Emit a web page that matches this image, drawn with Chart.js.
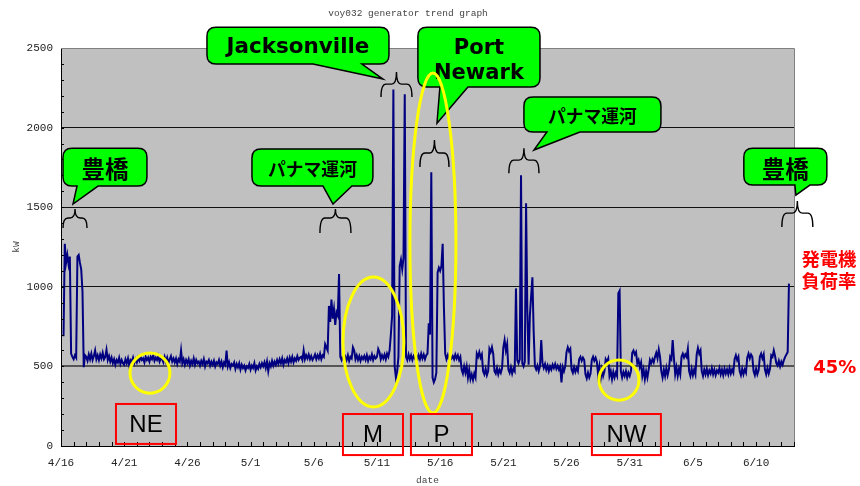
<!DOCTYPE html>
<html>
<head>
<meta charset="utf-8">
<script src="https://cdn.jsdelivr.net/npm/chart.js@4/dist/chart.umd.min.js"></script>
<style>
body{margin:0;background:#fff;}
#wrap{width:860px;height:486px;}
</style>
</head>
<body>
<div id="wrap"><canvas id="myChart"></canvas></div>
<script>
const dateLabels = ['4/16','4/21','4/26','5/1','5/6','5/11','5/16','5/21','5/26','5/31','6/5','6/10'];
// one sample every 0.1 day (2.4 h), starting 4/16 00:00
const stepDays = 0.1;

const kwApr = [
  null,null,690,1270,1150,1200,1140,1190,580,560,
  545,570,555,1190,1200,1150,1110,970,495,570,
  560,535,575,545,580,540,565,600,545,570,
  540,575,550,585,545,560,605,540,565,530,
  555,520,545,510,540,525,555,515,540,520,
  510,545,520,550,505,540,530,555,520,545,
  525,555,535,560,540,550,525,560,540,555,
  530,560,545,570,535,555,540,565,530,550,
  545,525,560,530,555,520,545,565,530,550,
  525,550,515,545,530,600,520,545,510,540,
  520,545,505,535,515,550,510,540,520,530,
  505,535,515,545,500,530,520,540,505,530,
  510,535,500,525,515,540,505,530,495,525,
  510,600,500,525,490,515,505,525,485,515,
  495,520,480,510,490,505,475,500,490,515
];
const kwMay1 = [
  480,505,490,520,475,500,485,515,495,520,
  500,525,490,530,470,520,500,535,505,530,
  510,540,515,545,520,550,510,540,525,550,
  520,555,530,560,525,550,535,565,540,555,
  560,540,600,545,570,550,575,545,565,540,
  555,575,545,570,550,580,545,570,560,640,
  620,600,880,780,920,800,860,760,840,820,
  1080,560,540,565,530,560,540,570,535,560,
  550,620,600,545,570,540,565,535,560,545,
  565,540,570,535,560,545,575,540,565,550,
  560,610,590,545,570,550,575,545,580,560,
  600,700,820,2240,500,430,470,560,1130,1170,
  1110,1180,2210,560,540,575,545,570,540,565,
  550,575,540,570,545,580,550,575,545,570,
  580,770,700,1720,430,400,420,460,1090,1120
];
const kwMay2 = [
  1100,1130,1270,870,580,545,570,540,565,550,
  565,545,575,550,570,540,560,480,455,500,
  460,500,430,480,420,450,415,455,430,580,
  560,590,555,575,470,450,485,445,470,610,
  590,620,580,470,455,490,450,480,460,490,
  620,665,600,640,480,460,495,455,485,470,
  990,540,520,545,1700,520,500,530,1525,850,
  510,820,940,1060,720,500,480,505,470,500,
  665,520,490,515,480,505,470,500,480,510,
  490,515,485,505,480,500,400,495,470,500,
  590,620,595,610,480,460,495,465,490,470,
  545,560,535,555,540,450,425,460,430,455,
  540,560,535,555,530,450,500,420,480,440,
  470,545,530,550,440,470,420,465,430,460,
  440,960,975,470,430,465,440,470,430,460,
  440,470,585,600,575,590,520,540,495,525
];
const kwJun = [
  440,480,420,470,430,480,540,520,545,525,
  560,585,550,605,560,470,430,480,440,490,
  445,480,560,545,665,550,450,495,440,485,
  450,560,580,555,575,560,610,470,440,485,
  445,480,450,575,615,580,600,470,440,480,
  450,485,445,475,455,490,450,480,445,475,
  460,490,450,480,445,485,455,480,450,490,
  455,480,460,545,570,540,560,470,445,485,
  450,480,460,555,580,550,575,560,470,445,
  485,450,475,560,580,550,575,480,450,490,
  455,485,570,560,600,565,520,505,535,500,
  530,510,540,560,575,590,1020
];

// annotations, in (day, kW) units
const callouts = [
  {text:['豊橋'], box:[0.16,1871,6.80,1633], tail:[1.27,2.93,0.95,1520], cjk:true, w:47},
  {text:['パナマ運河'], box:[15.11,1865,24.68,1633], tail:[20.73,23.02,21.52,1520], cjk:true, w:89},
  {text:['Jacksonville'], box:[11.55,2631,25.95,2399], tail:[19.94,23.81,25.47,2305], cjk:false, w:143},
  {text:['Port','Newark'], box:[28.24,2631,37.9,2255], tail:[29.98,32.2,29.75,2028], cjk:false, w:90},
  {text:['パナマ運河'], box:[36.63,2192,47.47,1972], tail:[38.45,41.06,37.42,1859], cjk:true, w:89},
  {text:['豊橋'], box:[54.03,1871,60.6,1639], tail:[58.07,59.26,58.15,1576], cjk:true, w:47}
];
const braces = [
  [0.16,2.06,1488,1432,1369],
  [20.49,22.94,1488,1432,1338],
  [25.32,27.77,2349,2273,2192],
  [28.4,30.7,1922,1840,1752],
  [35.44,37.82,1871,1796,1714],
  [57.04,59.49,1539,1463,1375]
];
const ellipses = [
  [7.04,458,1.58,126],
  [24.72,653,2.41,408],
  [29.43,1275,1.82,1068],
  [44.15,414,1.58,126]
];
const redBoxes = [
  {t:'NE', b:[4.35,264,9.1,13]},
  {t:'M', b:[22.31,201,27.06,-57]},
  {t:'P', b:[27.69,201,32.52,-57]},
  {t:'NW', b:[42.01,201,47.47,-57]}
];
const sideNotes = [
  {t:'発電機', d:60.76, k:1174, w:55},
  {t:'負荷率', d:60.76, k:1036, w:55},
  {t:'45%', d:61.23, k:490, w:43}
];

const kw = [].concat(kwApr, kwMay1, kwMay2, kwJun);
const points = kw.map((v, i) => ({x: Math.round(i * stepDays * 10) / 10, y: v}));

function fitSize(c, text, weight, family, target) {
  c.font = weight + ' 20px ' + family;
  return 20 * target / c.measureText(text).width;
}

const overlay = {
  id: 'overlay',
  beforeDraw(chart) {
    const a = chart.chartArea, c = chart.ctx;
    c.save();
    c.fillStyle = '#c0c0c0';
    c.fillRect(a.left, a.top, a.right - a.left, a.bottom - a.top);
    c.restore();
  },
  afterDraw(chart) {
    const a = chart.chartArea, c = chart.ctx;
    const sx = chart.scales.x, sy = chart.scales.y;
    const X = v => sx.getPixelForValue(v);
    const Y = v => sy.getPixelForValue(v);
    c.save();

    // frame + inner ticks
    c.strokeStyle = '#808080'; c.lineWidth = 1;
    c.beginPath();
    c.moveTo(a.left, a.top + 0.5); c.lineTo(a.right + 0.5, a.top + 0.5); c.lineTo(a.right + 0.5, a.bottom);
    c.stroke();
    c.strokeStyle = '#000';
    c.beginPath();
    for (let d = 1; d <= 58; d++) {
      const px = Math.round(X(d)) + 0.5;
      c.moveTo(px, a.bottom); c.lineTo(px, a.bottom - 4);
    }
    for (let k = 100; k < 2500; k += 100) {
      const py = Math.round(Y(k)) + 0.5;
      c.moveTo(a.left, py); c.lineTo(a.left + 3, py);
    }
    c.stroke();

    // title and axis names
    c.fillStyle = '#444';
    c.textAlign = 'center'; c.textBaseline = 'middle';
    c.font = '9.5px "Liberation Mono"';
    c.fillText('voy032 generator trend graph', 408, 13);
    c.fillText('date', (a.left + a.right) / 2, 480);
    c.save();
    c.translate(16, (a.top + a.bottom) / 2);
    c.rotate(-Math.PI / 2);
    c.fillText('kW', 0, 0);
    c.restore();

    // braces
    c.strokeStyle = '#000'; c.lineWidth = 1.4;
    braces.forEach(b => {
      const x1 = X(b[0]), x2 = X(b[1]), xc = (x1 + x2) / 2;
      const yt = Y(b[2]), ym = Y(b[3]), ye = Y(b[4]), r = 5;
      c.beginPath();
      c.moveTo(x1, ye);
      c.quadraticCurveTo(x1, ym, x1 + r, ym);
      c.lineTo(xc - r, ym);
      c.quadraticCurveTo(xc, ym, xc, yt);
      c.quadraticCurveTo(xc, ym, xc + r, ym);
      c.lineTo(x2 - r, ym);
      c.quadraticCurveTo(x2, ym, x2, ye);
      c.stroke();
    });

    // green speech bubbles
    callouts.forEach(o => {
      const x1 = X(o.box[0]), y1 = Y(o.box[1]), x2 = X(o.box[2]), y2 = Y(o.box[3]);
      const b1 = X(o.tail[0]), b2 = X(o.tail[1]), tx = X(o.tail[2]), ty = Y(o.tail[3]);
      const r = 9;
      c.beginPath();
      c.moveTo(x1 + r, y1);
      c.lineTo(x2 - r, y1);
      c.quadraticCurveTo(x2, y1, x2, y1 + r);
      c.lineTo(x2, y2 - r);
      c.quadraticCurveTo(x2, y2, x2 - r, y2);
      c.lineTo(b2, y2);
      c.lineTo(tx, ty);
      c.lineTo(b1, y2);
      c.lineTo(x1 + r, y2);
      c.quadraticCurveTo(x1, y2, x1, y2 - r);
      c.lineTo(x1, y1 + r);
      c.quadraticCurveTo(x1, y1, x1 + r, y1);
      c.closePath();
      c.fillStyle = '#00ff00';
      c.fill();
      c.strokeStyle = '#000'; c.lineWidth = 1.5;
      c.stroke();
      const fam = o.cjk ? '"Noto Sans CJK JP"' : '"DejaVu Sans"';
      const longest = o.text.reduce((p, q) => q.length > p.length ? q : p, '');
      const size = fitSize(c, longest, 'bold', fam, o.w);
      c.font = 'bold ' + size + 'px ' + fam;
      c.fillStyle = '#000';
      const cx = (x1 + x2) / 2, cy = (y1 + y2) / 2;
      if (o.text.length === 1) {
        c.fillText(o.text[0], cx, cy + 2);
      } else {
        c.fillText(o.text[0], cx, cy - 9);
        c.fillText(o.text[1], cx, cy + 16);
      }
    });

    // yellow rings
    c.strokeStyle = '#ffff00'; c.lineWidth = 3;
    ellipses.forEach(e => {
      const cx = X(e[0]), cy = Y(e[1]);
      c.beginPath();
      c.ellipse(cx, cy, Math.abs(X(e[0] + e[2]) - cx), Math.abs(Y(e[1] + e[3]) - cy), 0, 0, Math.PI * 2);
      c.stroke();
    });

    // red boxes
    redBoxes.forEach(o => {
      const x1 = X(o.b[0]), y1 = Y(o.b[1]), x2 = X(o.b[2]), y2 = Y(o.b[3]);
      c.strokeStyle = '#ff0000'; c.lineWidth = 2;
      c.strokeRect(x1, y1, x2 - x1, y2 - y1);
      c.fillStyle = '#000';
      c.font = '24px "Liberation Sans"';
      c.fillText(o.t, (x1 + x2) / 2, (y1 + y2) / 2 + 1);
    });

    // red side notes
    c.fillStyle = '#ff0000';
    sideNotes.forEach(o => {
      const fam = o.t === '45%' ? '"DejaVu Sans"' : '"Noto Sans CJK JP"';
      const size = fitSize(c, o.t, 'bold', fam, o.w);
      c.font = 'bold ' + size + 'px ' + fam;
      c.fillText(o.t, X(o.d), Y(o.k));
    });

    c.restore();
  }
};

const tickFont = {family: '"Liberation Mono"', size: 11};

const config = {
  type: 'line',
  data: {
    datasets: [{
      data: points,
      borderColor: '#000080',
      borderWidth: 2,
      pointRadius: 0,
      tension: 0,
      spanGaps: false
    }]
  },
  options: {
    responsive: true,
    maintainAspectRatio: false,
    animation: false,
    layout: {padding: {top: 48, right: 66, left: 0, bottom: 0}},
    plugins: {legend: {display: false}, tooltip: {enabled: false}},
    scales: {
      x: {
        type: 'linear',
        min: 0,
        max: 58,
        afterFit: s => { s.height = 40; },
        ticks: {
          stepSize: 5,
          autoSkip: false,
          maxRotation: 0,
          minRotation: 0,
          padding: 10,
          color: '#222',
          font: tickFont,
          callback: v => {
            const n = Math.round(v / 5);
            return Math.abs(v / 5 - n) < 1e-6 ? (dateLabels[n] || '') : '';
          }
        },
        grid: {drawOnChartArea: false, drawTicks: false},
        border: {color: '#000', width: 1}
      },
      y: {
        min: 0,
        max: 2500,
        afterFit: s => { s.width = 61; },
        ticks: {stepSize: 500, padding: 8, color: '#222', font: tickFont, callback: v => String(v)},
        grid: {
          drawTicks: false,
          color: ctx => {
            const v = ctx.tick.value;
            if (v === 0) return 'rgba(0,0,0,0)';
            if (v === 500) return '#555';
            if (v === 2500) return '#808080';
            return '#111';
          },
          lineWidth: ctx => ctx.tick.value === 500 ? 2 : 1
        },
        border: {color: '#000', width: 1}
      }
    }
  },
  plugins: [overlay]
};

const myChart = new Chart(document.getElementById('myChart'), config);
</script>
</body>
</html>
